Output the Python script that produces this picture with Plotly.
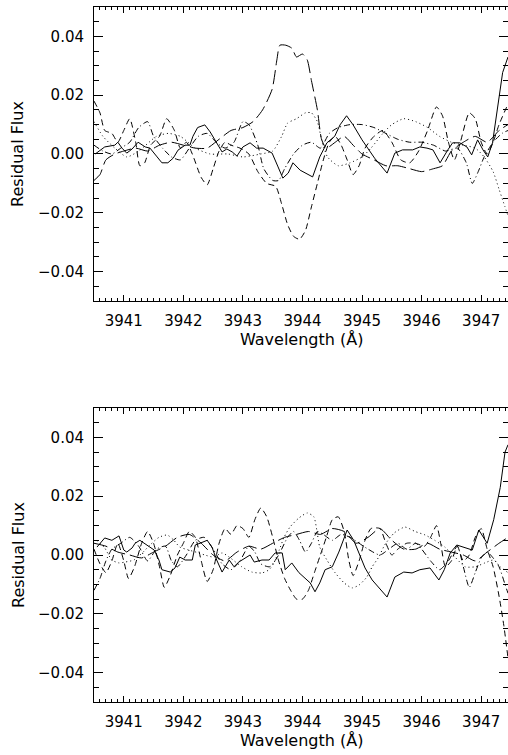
import plotly.graph_objects as go

# ---------------- data: top panel ----------------
top_solid_x = [3940.52,3940.68,3940.85,3940.90,3940.97,3941.05,3941.14,3941.24,3941.36,3941.44,3941.56,3941.64,3941.74,3941.83,3941.91,3942.03,3942.11,3942.16,3942.24,3942.36,3942.45,3942.56,3942.65,3942.73,3942.82,3942.90,3943.00,3943.12,3943.23,3943.34,3943.49,3943.59,3943.67,3943.76,3943.84,3943.96,3944.17,3944.29,3944.41,3944.54,3944.63,3944.74,3944.85,3945.00,3945.10,3945.21,3945.42,3945.55,3945.68,3945.85,3945.97,3946.09,3946.19,3946.31,3946.44,3946.52,3946.64,3946.76,3946.84,3946.94,3947.03,3947.11,3947.19,3947.28,3947.36,3947.45]
top_solid_y = [0.000,0.0024,0.003,0.004,0.002,0.0003,0.0017,0.004,0.0024,0.002,-0.001,-0.003,-0.003,-0.0014,0.0013,0.003,0.003,0.006,0.009,0.0099,0.0075,0.0038,0.0007,0.0017,0.0007,-0.0007,0.0024,0.0038,0.002,0.002,0.0003,-0.0044,-0.0082,-0.0065,-0.003,-0.0055,-0.0078,-0.001,0.0038,0.006,0.0099,0.013,0.0099,0.0048,0.002,-0.0014,-0.0065,0.0003,0.0014,0.0014,0.0024,0.002,0.0014,-0.003,0.0014,0.0038,0.0038,0.0024,-0.0003,0.0048,0.0014,-0.001,0.0038,0.016,0.0277,0.033]

top_dash_x = [3940.50,3940.60,3940.68,3940.80,3940.90,3941.00,3941.10,3941.20,3941.27,3941.35,3941.45,3941.60,3941.72,3941.85,3941.95,3942.05,3942.15,3942.30,3942.40,3942.50,3942.60,3942.70,3942.80,3942.95,3943.10,3943.25,3943.40,3943.55,3943.65,3943.75,3943.85,3943.95,3944.05,3944.15,3944.25,3944.35,3944.45,3944.55,3944.65,3944.75,3944.85,3944.95,3945.05,3945.20,3945.35,3945.50,3945.65,3945.80,3945.95,3946.10,3946.25,3946.35,3946.45,3946.55,3946.65,3946.80,3946.90,3947.00,3947.10,3947.20,3947.30,3947.45]
top_dash_y = [0.018,0.014,0.008,0.007,0.004,0.008,0.012,0.004,-0.004,-0.003,0.003,0.006,0.012,0.008,0.002,0.004,0.000,-0.008,-0.0105,-0.005,0.001,0.004,0.003,0.002,0.000,-0.006,-0.010,-0.011,-0.017,-0.024,-0.028,-0.029,-0.026,-0.018,-0.010,-0.002,0.004,0.006,0.003,-0.002,-0.007,-0.004,0.002,0.006,0.008,0.004,-0.002,-0.003,0.001,0.008,0.016,0.013,0.004,-0.002,0.004,0.014,0.012,0.004,0.000,0.004,0.010,0.017]

top_dot_x = [3940.50,3940.65,3940.85,3941.05,3941.25,3941.55,3941.75,3941.95,3942.20,3942.45,3942.75,3943.00,3943.30,3943.50,3943.65,3943.75,3943.90,3944.05,3944.15,3944.25,3944.32,3944.42,3944.60,3944.80,3945.00,3945.15,3945.35,3945.50,3945.70,3945.90,3946.10,3946.30,3946.50,3946.70,3946.90,3947.05,3947.20,3947.30,3947.40,3947.45]
top_dot_y = [0.011,0.006,0.002,-0.001,0.001,0.006,0.007,0.006,0.002,0.000,0.000,-0.001,0.000,0.001,0.006,0.0105,0.012,0.014,0.014,0.011,0.005,-0.001,-0.004,-0.003,-0.001,0.002,0.007,0.010,0.012,0.011,0.009,0.006,0.004,0.003,0.002,-0.001,-0.006,-0.012,-0.018,-0.021]

top_dashdot_x = [3940.50,3940.65,3940.80,3940.95,3941.10,3941.25,3941.40,3941.50,3941.65,3941.80,3941.95,3942.10,3942.25,3942.40,3942.55,3942.70,3942.85,3943.00,3943.10,3943.25,3943.35,3943.50,3943.60,3943.70,3943.85,3944.00,3944.15,3944.30,3944.45,3944.60,3944.80,3945.00,3945.20,3945.40,3945.60,3945.80,3946.00,3946.20,3946.40,3946.60,3946.75,3946.85,3946.95,3947.05,3947.20,3947.35,3947.45]
top_dashdot_y = [0.003,0.001,0.000,0.002,0.004,0.009,0.011,0.006,0.002,-0.001,-0.002,0.002,0.006,0.007,0.004,0.002,0.004,0.011,0.010,0.003,-0.005,-0.009,-0.009,-0.005,0.000,0.003,0.004,0.002,0.007,0.009,0.010,0.010,0.009,0.007,0.005,0.004,0.004,0.003,0.001,0.002,-0.003,-0.010,-0.006,-0.001,0.004,0.007,0.008]

top_long_x = [3940.50,3940.60,3940.70,3940.85,3941.00,3941.20,3941.40,3941.60,3941.80,3942.00,3942.20,3942.40,3942.60,3942.80,3943.00,3943.17,3943.33,3943.49,3943.57,3943.62,3943.72,3943.82,3943.90,3944.00,3944.08,3944.15,3944.25,3944.32,3944.40,3944.55,3944.70,3944.85,3945.00,3945.20,3945.40,3945.60,3945.80,3946.00,3946.20,3946.35,3946.50,3946.70,3946.90,3947.10,3947.30,3947.45]
top_long_y = [-0.009,-0.007,-0.002,0.000,0.001,0.002,0.001,0.003,0.004,0.003,0.002,0.002,0.005,0.008,0.009,0.011,0.015,0.022,0.032,0.037,0.037,0.036,0.033,0.034,0.032,0.025,0.015,0.005,0.002,0.004,0.006,0.003,0.000,-0.002,-0.004,-0.004,-0.005,-0.006,-0.005,-0.004,0.001,0.004,0.006,0.004,0.008,0.010]

# ---------------- data: bottom panel ----------------
bot_solid_x = [3940.55,3940.68,3940.80,3940.92,3941.00,3941.05,3941.14,3941.19,3941.27,3941.39,3941.51,3941.59,3941.64,3941.78,3941.86,3941.94,3942.03,3942.15,3942.20,3942.28,3942.40,3942.48,3942.56,3942.65,3942.77,3942.85,3942.93,3943.12,3943.19,3943.32,3943.44,3943.54,3943.66,3943.71,3943.82,3943.94,3944.13,3944.21,3944.29,3944.38,3944.50,3944.61,3944.75,3944.86,3944.95,3945.05,3945.17,3945.42,3945.55,3945.70,3945.84,3945.97,3946.14,3946.29,3946.38,3946.48,3946.59,3946.73,3946.85,3946.96,3947.10,3947.21,3947.32,3947.40,3947.45]
bot_solid_y = [0.0027,0.0058,0.005,0.0065,0.0017,0.001,0.0024,0.004,0.005,0.0034,0.0017,-0.0017,-0.005,-0.0058,-0.0044,-0.0007,-0.0017,-0.0017,0.0034,0.004,0.005,0.0027,-0.0017,-0.0058,-0.0017,-0.004,-0.0024,0.000,-0.0024,-0.0017,-0.0017,0.0007,0.0007,-0.005,-0.0027,-0.006,-0.0095,-0.0125,-0.0095,-0.005,-0.004,0.001,0.0085,0.005,0.0007,-0.0044,-0.0085,-0.0143,-0.0075,-0.0058,-0.0061,-0.005,-0.0044,-0.0085,-0.005,0.0007,0.0034,0.0024,0.0017,0.0085,0.004,0.012,0.023,0.035,0.0375]

bot_dash_x = [3940.50,3940.60,3940.70,3940.80,3940.90,3941.00,3941.08,3941.18,3941.30,3941.40,3941.50,3941.60,3941.68,3941.78,3941.90,3942.00,3942.10,3942.20,3942.30,3942.40,3942.50,3942.60,3942.70,3942.80,3942.90,3943.00,3943.10,3943.20,3943.30,3943.40,3943.50,3943.60,3943.70,3943.80,3943.90,3944.00,3944.10,3944.20,3944.30,3944.40,3944.50,3944.60,3944.70,3944.78,3944.85,3944.95,3945.05,3945.15,3945.30,3945.40,3945.50,3945.60,3945.75,3945.90,3946.05,3946.15,3946.25,3946.32,3946.40,3946.50,3946.60,3946.70,3946.80,3946.90,3947.00,3947.10,3947.20,3947.30,3947.38,3947.45]
bot_dash_y = [0.002,-0.003,-0.006,-0.002,0.004,-0.002,-0.008,-0.004,0.004,0.008,0.004,-0.004,-0.011,-0.007,0.000,0.004,0.008,0.006,-0.002,-0.009,-0.005,0.004,0.009,0.007,0.010,0.009,0.006,0.012,0.016,0.013,0.006,-0.002,-0.008,-0.012,-0.015,-0.015,-0.012,-0.006,0.000,0.006,0.012,0.013,0.008,-0.002,-0.007,-0.002,0.005,0.009,0.009,0.004,0.000,0.002,0.004,0.004,0.003,0.006,0.010,0.004,-0.004,-0.002,0.003,-0.002,0.000,0.006,0.009,0.002,-0.004,-0.014,-0.024,-0.035]

bot_dot_x = [3940.55,3940.68,3940.80,3940.92,3941.02,3941.17,3941.31,3941.44,3941.59,3941.73,3941.84,3941.94,3942.09,3942.26,3942.36,3942.51,3942.65,3942.77,3942.98,3943.15,3943.32,3943.44,3943.52,3943.61,3943.69,3943.79,3943.94,3944.08,3944.19,3944.24,3944.29,3944.41,3944.55,3944.70,3944.83,3944.95,3945.08,3945.17,3945.28,3945.38,3945.54,3945.72,3945.89,3946.06,3946.22,3946.39,3946.56,3946.73,3946.90,3947.06,3947.21,3947.32,3947.45]
bot_dot_y = [0.005,0.0024,-0.0017,-0.0027,-0.0024,-0.0017,0.0007,0.0034,0.006,0.0068,0.005,0.0027,0.0017,0.0007,0.000,-0.0007,0.0007,-0.0007,-0.004,-0.0058,-0.0061,-0.005,-0.0027,0.0017,0.006,0.0095,0.0126,0.0143,0.013,0.0085,0.0027,-0.0017,-0.0061,-0.0095,-0.0112,-0.0102,-0.0075,-0.004,-0.0007,0.0034,0.0075,0.0095,0.008,0.0068,0.005,0.0027,-0.0007,-0.004,-0.004,-0.0027,-0.0017,-0.004,-0.006]

bot_dashdot_x = [3940.50,3940.60,3940.70,3940.80,3940.95,3941.10,3941.25,3941.40,3941.55,3941.70,3941.80,3941.90,3942.05,3942.20,3942.35,3942.50,3942.65,3942.80,3942.95,3943.10,3943.20,3943.30,3943.45,3943.60,3943.75,3943.85,3943.95,3944.05,3944.15,3944.25,3944.35,3944.50,3944.65,3944.80,3944.95,3945.10,3945.30,3945.45,3945.60,3945.75,3945.90,3946.00,3946.15,3946.30,3946.45,3946.60,3946.70,3946.80,3946.90,3947.00,3947.10,3947.20,3947.30,3947.40,3947.45]
bot_dashdot_y = [-0.012,-0.008,-0.002,0.002,0.004,0.006,0.003,-0.002,0.002,0.003,-0.002,-0.004,0.000,0.005,0.006,0.002,-0.003,-0.005,-0.002,0.003,0.001,-0.003,-0.004,0.000,0.006,0.008,0.005,0.001,0.004,0.008,0.007,0.005,0.007,0.006,0.004,0.002,0.000,0.002,0.004,0.002,0.004,0.002,-0.002,-0.005,-0.002,0.003,-0.004,-0.011,-0.006,-0.001,0.001,-0.001,-0.004,-0.010,-0.013]

bot_long_x = [3940.50,3940.70,3940.90,3941.10,3941.30,3941.50,3941.70,3941.90,3942.10,3942.30,3942.50,3942.70,3942.90,3943.10,3943.30,3943.50,3943.70,3943.90,3944.10,3944.30,3944.50,3944.70,3944.90,3945.10,3945.30,3945.50,3945.70,3945.90,3946.10,3946.30,3946.50,3946.70,3946.90,3947.10,3947.30,3947.45]
bot_long_y = [0.004,0.003,0.001,0.000,-0.001,0.001,0.003,0.006,0.007,0.004,0.000,-0.002,0.001,0.003,0.002,0.004,0.006,0.007,0.008,0.007,0.009,0.008,0.004,0.006,0.009,0.005,0.002,0.002,0.004,0.002,0.001,0.000,-0.002,0.001,0.004,0.006]

x_tick_vals = [3941, 3942, 3943, 3944, 3945, 3946, 3947]
y_tick_vals = [-0.04, -0.02, 0.00, 0.02, 0.04]

X_RANGE = [3940.5, 3947.45]
Y_RANGE = [-0.05, 0.05]
FONT = "DejaVu Sans"
X_TITLE = "Wavelength (Å)"
Y_TITLE = "Residual Flux"

DASHES = {
    "solid": "solid",
    "dash": "6px,4px",
    "dot": "1px,3px",
    "dashdot": "6px,3px,1px,3px",
    "long": "14px,5px",
}

fig = go.Figure()

def add(xs, ys, style, xa, ya, shape="spline"):
    fig.add_trace(go.Scatter(
        x=xs, y=ys, mode="lines", xaxis=xa, yaxis=ya,
        line=dict(color="black", width=1, dash=DASHES[style], shape=shape, smoothing=0.6),
        hoverinfo="skip", showlegend=False, cliponaxis=True,
    ))

add(top_long_x, top_long_y, "long", "x", "y")
add(top_dashdot_x, top_dashdot_y, "dashdot", "x", "y")
add(top_dot_x, top_dot_y, "dot", "x", "y")
add(top_dash_x, top_dash_y, "dash", "x", "y")
add(top_solid_x, top_solid_y, "solid", "x", "y3", shape="linear")

add(bot_long_x, bot_long_y, "long", "x2", "y2")
add(bot_dashdot_x, bot_dashdot_y, "dashdot", "x2", "y2")
add(bot_dot_x, bot_dot_y, "dot", "x2", "y2")
add(bot_dash_x, bot_dash_y, "dash", "x2", "y2")
add(bot_solid_x, bot_solid_y, "solid", "x2", "y4", shape="linear")

def xaxis(anchor):
    return dict(
        range=X_RANGE, anchor=anchor, domain=[0, 1],
        tickmode="array", tickvals=x_tick_vals, ticktext=[str(v) for v in x_tick_vals],
        ticks="inside", ticklen=6, tickwidth=1, tickcolor="black",
        minor=dict(dtick=0.1, tick0=3940.5, ticks="inside", ticklen=3, tickwidth=1, tickcolor="black"),
        showline=True, linecolor="black", linewidth=1, mirror="ticks",
        showgrid=False, zeroline=False,
        tickfont=dict(family=FONT, size=15, color="black"),
        ticklabelstandoff=6,
    )

def yaxis(domain, anchor):
    return dict(
        range=Y_RANGE, domain=domain, anchor=anchor,
        tickmode="array", tickvals=y_tick_vals, tickformat=".2f",
        ticks="inside", ticklen=9, tickwidth=1, tickcolor="black",
        minor=dict(dtick=0.005, tick0=0, ticks="inside", ticklen=5, tickwidth=1, tickcolor="black"),
        showline=True, linecolor="black", linewidth=1, mirror=False,
        showgrid=False, zeroline=False,
        tickfont=dict(family=FONT, size=15, color="black"),
        ticklabelstandoff=6,
    )

def yright(overlay, anchor):
    return dict(
        range=Y_RANGE, overlaying=overlay, anchor=anchor, side="right",
        tickmode="array", tickvals=y_tick_vals, showticklabels=False,
        ticks="inside", ticklen=9, tickwidth=1, tickcolor="black",
        minor=dict(dtick=0.005, tick0=0, ticks="inside", ticklen=5, tickwidth=1, tickcolor="black"),
        showline=False, showgrid=False, zeroline=False,
    )

TOP_DOM = [0.577, 1.0]
BOT_DOM = [0.0, 0.423]

title_font = dict(family=FONT, size=16, color="black")
annotations = []
for dom in (TOP_DOM, BOT_DOM):
    annotations.append(dict(
        text=X_TITLE, xref="paper", yref="paper", x=0.5, y=dom[0],
        yshift=-27, xanchor="center", yanchor="top", showarrow=False, font=title_font,
    ))
    annotations.append(dict(
        text=Y_TITLE, xref="paper", yref="paper", x=0, y=(dom[0] + dom[1]) / 2,
        xshift=-76, xanchor="center", yanchor="middle", textangle=-90,
        showarrow=False, font=title_font,
    ))

fig.update_layout(
    width=508, height=755,
    margin=dict(l=94, r=0, t=7, b=53),
    paper_bgcolor="white", plot_bgcolor="white",
    font=dict(family=FONT, size=16, color="black"),
    xaxis=xaxis("y"),
    xaxis2=xaxis("y2"),
    yaxis=yaxis(TOP_DOM, "x"),
    yaxis2=yaxis(BOT_DOM, "x2"),
    yaxis3=yright("y", "x"),
    yaxis4=yright("y2", "x2"),
    annotations=annotations,
    showlegend=False,
)

fig.write_html(
    "out.html",
    config={"displayModeBar": False, "staticPlot": True},
    post_script="document.body.style.margin='0';document.body.style.overflow='hidden';",
)
